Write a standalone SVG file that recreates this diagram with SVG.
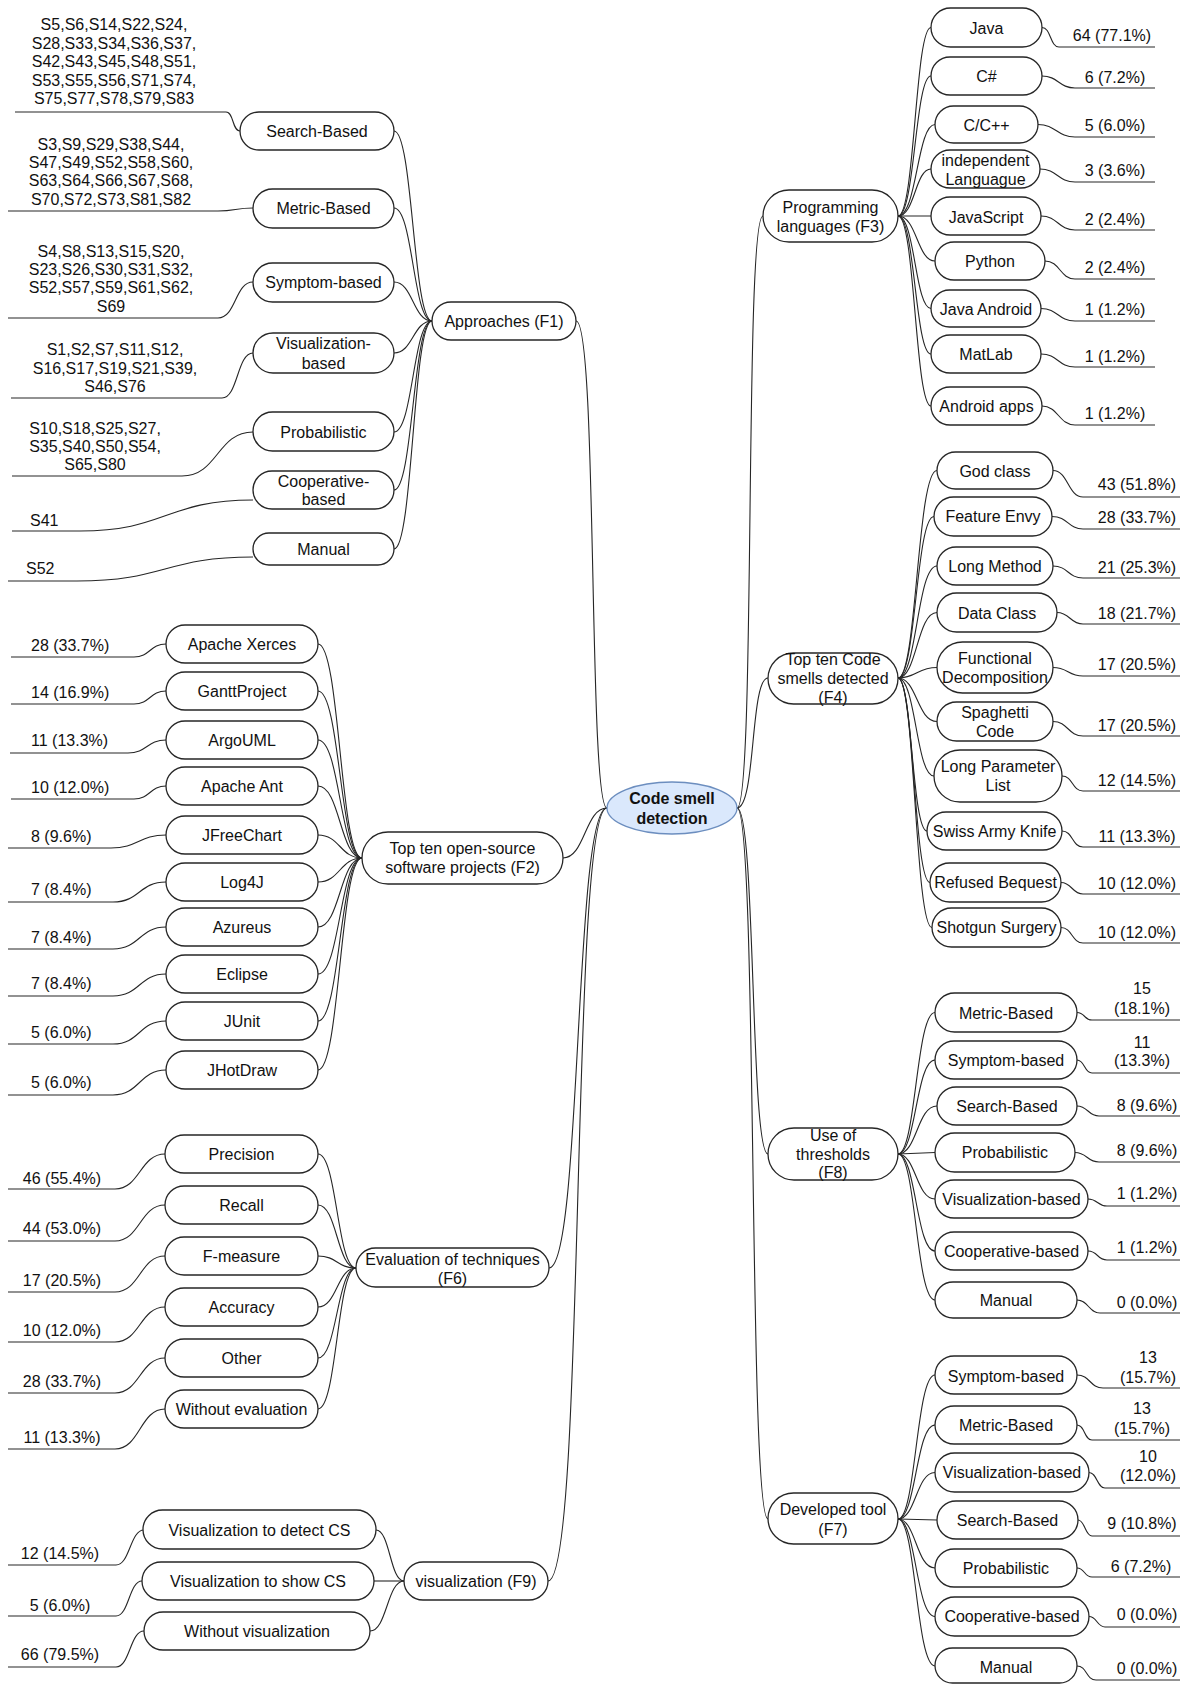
<svg xmlns="http://www.w3.org/2000/svg" width="1180" height="1684" viewBox="0 0 1180 1684">
<style>
.n rect{fill:#fff;stroke:#262626;stroke-width:1.3}
text{font-family:"Liberation Sans",Arial,sans-serif;font-size:16px;fill:#111;dominant-baseline:central}
.c{text-anchor:middle}
.s{text-anchor:start}
#edges path{fill:none;stroke:#262626;stroke-width:1.1}
</style>
<rect width="1180" height="1684" fill="#fff"/>
<g id="edges">
<!-- central -->
<path d="M607,808 C588,808 598,321 576,321"/>
<path d="M607,808 C585,808 585,858 563,858"/>
<path d="M607,808 C574,808 582,1268 549,1268"/>
<path d="M607,808 C570,808 586,1581 548,1581"/>
<path d="M737,808 C756,808 744,216 763,216"/>
<path d="M737,808 C756,808 750,678 768,678"/>
<path d="M737,808 C756,808 750,1154 768,1154"/>
<path d="M737,808 C758,808 748,1519 768,1519"/>
<!-- F1 children -->
<path d="M432,321 C413,321 413,131 394,131"/>
<path d="M432,321 C413,321 413,208 394,208"/>
<path d="M432,321 C413,321 413,282 394,282"/>
<path d="M432,321 C413,321 413,353 394,353"/>
<path d="M432,321 C413,321 413,432 394,432"/>
<path d="M432,321 C413,321 413,490 394,490"/>
<path d="M432,321 C413,321 413,549 394,549"/>
<!-- F1 leaves -->
<path d="M15,112 L226,112 C234,112 232,131 240,131"/>
<path d="M8,211 L218,211 C236,211 235,208 253,208"/>
<path d="M8,318 L218,318 C236,318 235,282 253,282"/>
<path d="M11,398 L222,398 C238,398 237,353 253,353"/>
<path d="M12,476 L182,476 C218,476 217,432 253,432"/>
<path d="M12,531 L80,531 C166,531 166,500 253,500"/>
<path d="M8,581 L77,581 C165,581 165,557 253,557"/>
<!-- F2 children -->
<path d="M362,858 C340,858 340,644 318,644"/>
<path d="M362,858 C340,858 340,691 318,691"/>
<path d="M362,858 C340,858 340,740 318,740"/>
<path d="M362,858 C340,858 340,786 318,786"/>
<path d="M362,858 C340,858 340,835 318,835"/>
<path d="M362,858 C340,858 340,882 318,882"/>
<path d="M362,858 C340,858 340,927 318,927"/>
<path d="M362,858 C340,858 340,974 318,974"/>
<path d="M362,858 C340,858 340,1021 318,1021"/>
<path d="M362,858 C340,858 340,1070 318,1070"/>
<!-- F2 leaves -->
<path d="M11,657 L134,657 C150,657 150,644 166,644"/>
<path d="M11,704 L134,704 C150,704 150,691 166,691"/>
<path d="M10,753 L128,753 C147,753 147,740 166,740"/>
<path d="M11,799 L134,799 C150,799 150,786 166,786"/>
<path d="M8,848 L111,848 C138,848 139,835 166,835"/>
<path d="M8,902 L113,902 C140,902 139,882 166,882"/>
<path d="M8,949 L113,949 C140,949 139,927 166,927"/>
<path d="M8,996 L113,996 C140,996 139,974 166,974"/>
<path d="M8,1044 L113,1044 C140,1044 139,1021 166,1021"/>
<path d="M8,1095 L113,1095 C140,1095 139,1070 166,1070"/>
<!-- F6 children -->
<path d="M356,1268 C337,1268 337,1154 318,1154"/>
<path d="M356,1268 C337,1268 337,1205 318,1205"/>
<path d="M356,1268 C337,1268 337,1256 318,1256"/>
<path d="M356,1268 C337,1268 337,1307 318,1307"/>
<path d="M356,1268 C337,1268 337,1358 318,1358"/>
<path d="M356,1268 C337,1268 337,1409 318,1409"/>
<!-- F6 leaves -->
<path d="M8,1189 L115,1189 C140,1189 140,1154 165,1154"/>
<path d="M8,1241 L115,1241 C140,1241 140,1205 165,1205"/>
<path d="M8,1292 L115,1292 C140,1292 140,1256 165,1256"/>
<path d="M8,1342 L115,1342 C140,1342 140,1307 165,1307"/>
<path d="M8,1393 L115,1393 C140,1393 140,1358 165,1358"/>
<path d="M8,1449 L115,1449 C140,1449 140,1409 165,1409"/>
<!-- F9 children -->
<path d="M404,1581 C390,1581 390,1530 376,1530"/>
<path d="M404,1581 L374,1581"/>
<path d="M404,1581 C387,1581 387,1631 370,1631"/>
<!-- F9 leaves -->
<path d="M8,1565 L116,1565 C130,1565 130,1530 144,1530"/>
<path d="M8,1616 L116,1616 C129,1616 129,1581 142,1581"/>
<path d="M8,1667 L116,1667 C130,1667 130,1631 144,1631"/>
<!-- F3 children -->
<path d="M898,216 C915,216 915,27.5 931,27.5"/>
<path d="M898,216 C915,216 915,76 931,76"/>
<path d="M898,216 C917,216 917,124.5 935,124.5"/>
<path d="M898,216 C915,216 915,169 931,169"/>
<path d="M898,216 L931,216"/>
<path d="M898,216 C917,216 917,261 935,261"/>
<path d="M898,216 C915,216 915,308.5 931,308.5"/>
<path d="M898,216 C915,216 915,354 931,354"/>
<path d="M898,216 C915,216 915,406 931,406"/>
<!-- F3 leaves -->
<path d="M1042,27.5 C1051,27.5 1050,47 1059,47 L1155,47"/>
<path d="M1042,76 C1058,76 1059,88 1075,88 L1155,88"/>
<path d="M1038,124.5 C1056,124.5 1057,137 1075,137 L1155,137"/>
<path d="M1040,169 C1057,169 1058,182 1075,182 L1155,182"/>
<path d="M1041,216 C1058,216 1058,230 1075,230 L1155,230"/>
<path d="M1045,261 C1060,261 1060,279 1075,279 L1155,279"/>
<path d="M1041,308.5 C1058,308.5 1058,321 1075,321 L1155,321"/>
<path d="M1041,354 C1058,354 1058,367 1075,367 L1155,367"/>
<path d="M1042,406 C1058,406 1059,425 1075,425 L1155,425"/>
<!-- F4 children -->
<path d="M898,678 C917,678 917,470.5 937,470.5"/>
<path d="M898,678 C916,678 916,516.5 934,516.5"/>
<path d="M898,678 C917,678 917,566 937,566"/>
<path d="M898,678 C917,678 917,612.5 937,612.5"/>
<path d="M898,678 C917,678 917,667.5 937,667.5"/>
<path d="M898,678 C917,678 917,721.5 937,721.5"/>
<path d="M898,678 C916,678 916,776 934,776"/>
<path d="M898,678 C912,678 912,831 927,831"/>
<path d="M898,678 C914,678 914,882.5 930,882.5"/>
<path d="M898,678 C915,678 915,927.5 932,927.5"/>
<!-- F4 leaves -->
<path d="M1053,470.5 C1068,470.5 1068,497 1083,497 L1180,497"/>
<path d="M1052,516.5 C1068,516.5 1068,529 1083,529 L1180,529"/>
<path d="M1053,566 C1068,566 1068,578 1083,578 L1180,578"/>
<path d="M1057,612.5 C1070,612.5 1070,624 1083,624 L1180,624"/>
<path d="M1053,667.5 C1068,667.5 1068,676 1083,676 L1180,676"/>
<path d="M1053,721.5 C1068,721.5 1068,736 1083,736 L1180,736"/>
<path d="M1062,776 C1073,776 1072,791 1083,791 L1180,791"/>
<path d="M1062,831 C1073,831 1072,847 1083,847 L1180,847"/>
<path d="M1061,882.5 C1072,882.5 1072,894 1083,894 L1180,894"/>
<path d="M1061,927.5 C1072,927.5 1072,943 1083,943 L1180,943"/>
<!-- F8 children -->
<path d="M898,1154 C916,1154 916,1012.5 935,1012.5"/>
<path d="M898,1154 C916,1154 916,1060 935,1060"/>
<path d="M898,1154 C917,1154 917,1106 937,1106"/>
<path d="M898,1154 L935,1152.5"/>
<path d="M898,1154 C916,1154 916,1199 935,1199"/>
<path d="M898,1154 C916,1154 916,1251 935,1251"/>
<path d="M898,1154 C916,1154 916,1300 935,1300"/>
<!-- F8 leaves -->
<path d="M1077,1012.5 C1085,1012.5 1084,1020 1092,1020 L1180,1020"/>
<path d="M1077,1060 C1085,1060 1084,1073 1092,1073 L1180,1073"/>
<path d="M1077,1106 C1088,1106 1088,1116 1099,1116 L1180,1116"/>
<path d="M1075,1152.5 C1087,1152.5 1087,1162 1099,1162 L1180,1162"/>
<path d="M1088,1199 C1098,1199 1097,1206 1107,1206 L1180,1206"/>
<path d="M1088,1251 C1098,1251 1097,1260 1107,1260 L1180,1260"/>
<path d="M1077,1300 C1088,1300 1089,1313 1100,1313 L1180,1313"/>
<!-- F7 children -->
<path d="M898,1519 C916,1519 916,1375 935,1375"/>
<path d="M898,1519 C916,1519 916,1425 935,1425"/>
<path d="M898,1519 C916,1519 916,1472.5 935,1472.5"/>
<path d="M898,1519 L937,1520"/>
<path d="M898,1519 C916,1519 916,1568 935,1568"/>
<path d="M898,1519 C916,1519 916,1616.5 935,1616.5"/>
<path d="M898,1519 C916,1519 916,1666 935,1666"/>
<!-- F7 leaves -->
<path d="M1077,1375 C1090,1375 1090,1388 1103,1388 L1180,1388"/>
<path d="M1077,1425 C1085,1425 1084,1440 1092,1440 L1180,1440"/>
<path d="M1089,1472.5 C1097,1472.5 1097,1488 1105,1488 L1180,1488"/>
<path d="M1078,1520 C1085,1520 1085,1536 1092,1536 L1180,1536"/>
<path d="M1077,1568 C1085,1568 1084,1577 1092,1577 L1180,1577"/>
<path d="M1089,1616.5 C1097,1616.5 1097,1627 1105,1627 L1180,1627"/>
<path d="M1077,1666 C1087,1666 1086,1680 1096,1680 L1180,1680"/>
</g>

<g id="root">
<ellipse cx="672" cy="808" rx="65" ry="26" fill="#dae8fc" stroke="#6c8ebf" stroke-width="1.3"/>
<text class="c" x="672" y="798" font-weight="bold" font-size="17">Code smell</text>
<text class="c" x="672" y="818" font-weight="bold" font-size="17">detection</text>
</g>

<!-- F1 -->
<g id="f1" class="n"><rect x="432" y="302" width="144" height="38" rx="19"/><text class="c" x="504" y="321">Approaches (F1)</text></g>
<g id="f1-search" class="n"><rect x="240" y="112" width="154" height="38" rx="19"/><text class="c" x="317" y="131">Search-Based</text></g>
<g id="f1-metric" class="n"><rect x="253" y="189" width="141" height="39" rx="19.5"/><text class="c" x="323.5" y="208">Metric-Based</text></g>
<g id="f1-symptom" class="n"><rect x="253" y="263" width="141" height="39" rx="19.5"/><text class="c" x="323.5" y="282">Symptom-based</text></g>
<g id="f1-vis" class="n"><rect x="253" y="333" width="141" height="40" rx="20"/><text class="c" x="323.5" y="343">Visualization-</text><text class="c" x="323.5" y="363">based</text></g>
<g id="f1-prob" class="n"><rect x="253" y="412" width="141" height="39" rx="19.5"/><text class="c" x="323.5" y="432">Probabilistic</text></g>
<g id="f1-coop" class="n"><rect x="253" y="471" width="141" height="38" rx="19"/><text class="c" x="323.5" y="481">Cooperative-</text><text class="c" x="323.5" y="499">based</text></g>
<g id="f1-manual" class="n"><rect x="253" y="533" width="141" height="32" rx="16"/><text class="c" x="323.5" y="549">Manual</text></g>

<g id="f1-leaves">
<text class="c" x="114" y="24">S5,S6,S14,S22,S24,</text>
<text class="c" x="114" y="43">S28,S33,S34,S36,S37,</text>
<text class="c" x="114" y="61">S42,S43,S45,S48,S51,</text>
<text class="c" x="114" y="80">S53,S55,S56,S71,S74,</text>
<text class="c" x="114" y="98">S75,S77,S78,S79,S83</text>
<text class="c" x="111" y="144">S3,S9,S29,S38,S44,</text>
<text class="c" x="111" y="162">S47,S49,S52,S58,S60,</text>
<text class="c" x="111" y="180">S63,S64,S66,S67,S68,</text>
<text class="c" x="111" y="199">S70,S72,S73,S81,S82</text>
<text class="c" x="111" y="251">S4,S8,S13,S15,S20,</text>
<text class="c" x="111" y="269">S23,S26,S30,S31,S32,</text>
<text class="c" x="111" y="287">S52,S57,S59,S61,S62,</text>
<text class="c" x="111" y="306">S69</text>
<text class="c" x="115" y="349">S1,S2,S7,S11,S12,</text>
<text class="c" x="115" y="368">S16,S17,S19,S21,S39,</text>
<text class="c" x="115" y="386">S46,S76</text>
<text class="c" x="95" y="428">S10,S18,S25,S27,</text>
<text class="c" x="95" y="446">S35,S40,S50,S54,</text>
<text class="c" x="95" y="464">S65,S80</text>
<text class="s" x="30" y="520">S41</text>
<text class="s" x="26" y="568">S52</text>
</g>

<!-- F2 -->
<g id="f2" class="n"><rect x="362" y="832" width="201" height="52" rx="26"/><text class="c" x="462.5" y="848">Top ten open-source</text><text class="c" x="462.5" y="867">software projects (F2)</text></g>
<g id="f2-xerces" class="n"><rect x="166" y="625" width="152" height="38" rx="19"/><text class="c" x="242" y="644">Apache Xerces</text></g>
<g id="f2-gantt" class="n"><rect x="166" y="672" width="152" height="38" rx="19"/><text class="c" x="242" y="691">GanttProject</text></g>
<g id="f2-argo" class="n"><rect x="166" y="721" width="152" height="38" rx="19"/><text class="c" x="242" y="740">ArgoUML</text></g>
<g id="f2-ant" class="n"><rect x="166" y="767" width="152" height="38" rx="19"/><text class="c" x="242" y="786">Apache Ant</text></g>
<g id="f2-jfree" class="n"><rect x="166" y="816" width="152" height="38" rx="19"/><text class="c" x="242" y="835">JFreeChart</text></g>
<g id="f2-log4j" class="n"><rect x="166" y="863" width="152" height="38" rx="19"/><text class="c" x="242" y="882">Log4J</text></g>
<g id="f2-azureus" class="n"><rect x="166" y="908" width="152" height="38" rx="19"/><text class="c" x="242" y="927">Azureus</text></g>
<g id="f2-eclipse" class="n"><rect x="166" y="955" width="152" height="38" rx="19"/><text class="c" x="242" y="974">Eclipse</text></g>
<g id="f2-junit" class="n"><rect x="166" y="1002" width="152" height="38" rx="19"/><text class="c" x="242" y="1021">JUnit</text></g>
<g id="f2-jhot" class="n"><rect x="166" y="1051" width="152" height="38" rx="19"/><text class="c" x="242" y="1070">JHotDraw</text></g>
<g id="f2-leaves">
<text class="s" x="31" y="645">28 (33.7%)</text>
<text class="s" x="31" y="692">14 (16.9%)</text>
<text class="s" x="31" y="740">11 (13.3%)</text>
<text class="s" x="31" y="787">10 (12.0%)</text>
<text class="s" x="31" y="836">8 (9.6%)</text>
<text class="s" x="31" y="889">7 (8.4%)</text>
<text class="s" x="31" y="937">7 (8.4%)</text>
<text class="s" x="31" y="983">7 (8.4%)</text>
<text class="s" x="31" y="1032">5 (6.0%)</text>
<text class="s" x="31" y="1082">5 (6.0%)</text>
</g>

<!-- F6 -->
<g id="f6" class="n"><rect x="356" y="1248" width="193" height="39" rx="19.5"/><text class="c" x="452.5" y="1259">Evaluation of techniques</text><text class="c" x="452.5" y="1278">(F6)</text></g>
<g id="f6-precision" class="n"><rect x="165" y="1135" width="153" height="38" rx="19"/><text class="c" x="241.5" y="1154">Precision</text></g>
<g id="f6-recall" class="n"><rect x="165" y="1186" width="153" height="38" rx="19"/><text class="c" x="241.5" y="1205">Recall</text></g>
<g id="f6-fmeasure" class="n"><rect x="165" y="1237" width="153" height="38" rx="19"/><text class="c" x="241.5" y="1256">F-measure</text></g>
<g id="f6-accuracy" class="n"><rect x="165" y="1288" width="153" height="38" rx="19"/><text class="c" x="241.5" y="1307">Accuracy</text></g>
<g id="f6-other" class="n"><rect x="165" y="1339" width="153" height="38" rx="19"/><text class="c" x="241.5" y="1358">Other</text></g>
<g id="f6-without" class="n"><rect x="165" y="1390" width="153" height="38" rx="19"/><text class="c" x="241.5" y="1409">Without evaluation</text></g>
<g id="f6-leaves">
<text class="c" x="62" y="1178">46 (55.4%)</text>
<text class="c" x="62" y="1228">44 (53.0%)</text>
<text class="c" x="62" y="1280">17 (20.5%)</text>
<text class="c" x="62" y="1330">10 (12.0%)</text>
<text class="c" x="62" y="1381">28 (33.7%)</text>
<text class="c" x="62" y="1437">11 (13.3%)</text>
</g>

<!-- F9 -->
<g id="f9" class="n"><rect x="404" y="1562" width="144" height="38" rx="19"/><text class="c" x="476" y="1581">visualization (F9)</text></g>
<g id="f9-detect" class="n"><rect x="143" y="1510" width="233" height="39" rx="19.5"/><text class="c" x="259.5" y="1530">Visualization to detect CS</text></g>
<g id="f9-show" class="n"><rect x="142" y="1562" width="232" height="38" rx="19"/><text class="c" x="258" y="1581">Visualization to show CS</text></g>
<g id="f9-without" class="n"><rect x="144" y="1612" width="226" height="38" rx="19"/><text class="c" x="257" y="1631">Without visualization</text></g>
<g id="f9-leaves">
<text class="c" x="60" y="1553">12 (14.5%)</text>
<text class="c" x="60" y="1605">5 (6.0%)</text>
<text class="c" x="60" y="1654">66 (79.5%)</text>
</g>

<!-- F3 -->
<g id="f3" class="n"><rect x="763" y="190" width="135" height="52" rx="26"/><text class="c" x="830.5" y="207">Programming</text><text class="c" x="830.5" y="226">languages (F3)</text></g>
<g id="f3-java" class="n"><rect x="931" y="8" width="111" height="39" rx="19.5"/><text class="c" x="986.5" y="28">Java</text></g>
<g id="f3-cs" class="n"><rect x="931" y="57" width="111" height="38" rx="19"/><text class="c" x="986.5" y="76">C#</text></g>
<g id="f3-cpp" class="n"><rect x="935" y="106" width="103" height="37" rx="18.5"/><text class="c" x="986.5" y="125">C/C++</text></g>
<g id="f3-indep" class="n"><rect x="931" y="150" width="109" height="38" rx="19"/><text class="c" x="985.5" y="160">independent</text><text class="c" x="985.5" y="179">Languague</text></g>
<g id="f3-js" class="n"><rect x="931" y="197" width="110" height="38" rx="19"/><text class="c" x="986" y="217">JavaScript</text></g>
<g id="f3-python" class="n"><rect x="935" y="242" width="110" height="38" rx="19"/><text class="c" x="990" y="261">Python</text></g>
<g id="f3-jandroid" class="n"><rect x="931" y="290" width="110" height="37" rx="18.5"/><text class="c" x="986" y="309">Java Android</text></g>
<g id="f3-matlab" class="n"><rect x="931" y="335" width="110" height="38" rx="19"/><text class="c" x="986" y="354">MatLab</text></g>
<g id="f3-android" class="n"><rect x="931" y="387" width="111" height="38" rx="19"/><text class="c" x="986.5" y="406">Android apps</text></g>
<g id="f3-leaves">
<text class="c" x="1112" y="35">64 (77.1%)</text>
<text class="c" x="1115" y="77">6 (7.2%)</text>
<text class="c" x="1115" y="125">5 (6.0%)</text>
<text class="c" x="1115" y="170">3 (3.6%)</text>
<text class="c" x="1115" y="219">2 (2.4%)</text>
<text class="c" x="1115" y="267">2 (2.4%)</text>
<text class="c" x="1115" y="309">1 (1.2%)</text>
<text class="c" x="1115" y="356">1 (1.2%)</text>
<text class="c" x="1115" y="413">1 (1.2%)</text>
</g>

<!-- F4 -->
<g id="f4" class="n"><rect x="768" y="653" width="130" height="51" rx="25.5"/><text class="c" x="833" y="659">Top ten Code</text><text class="c" x="833" y="678">smells detected</text><text class="c" x="833" y="697">(F4)</text></g>
<g id="f4-god" class="n"><rect x="937" y="452" width="116" height="37" rx="18.5"/><text class="c" x="995" y="471">God class</text></g>
<g id="f4-envy" class="n"><rect x="934" y="497" width="118" height="39" rx="19.5"/><text class="c" x="993" y="516.5">Feature Envy</text></g>
<g id="f4-longm" class="n"><rect x="937" y="547" width="116" height="38" rx="19"/><text class="c" x="995" y="566">Long Method</text></g>
<g id="f4-data" class="n"><rect x="937" y="593" width="120" height="39" rx="19.5"/><text class="c" x="997" y="613">Data Class</text></g>
<g id="f4-func" class="n"><rect x="937" y="642" width="116" height="51" rx="25.5"/><text class="c" x="995" y="658">Functional</text><text class="c" x="995" y="677">Decomposition</text></g>
<g id="f4-spag" class="n"><rect x="937" y="702" width="116" height="39" rx="19.5"/><text class="c" x="995" y="712">Spaghetti</text><text class="c" x="995" y="731">Code</text></g>
<g id="f4-longp" class="n"><rect x="934" y="750" width="128" height="52" rx="26"/><text class="c" x="998" y="766">Long Parameter</text><text class="c" x="998" y="785">List</text></g>
<g id="f4-swiss" class="n"><rect x="927" y="812" width="135" height="38" rx="19"/><text class="c" x="994.5" y="831">Swiss Army Knife</text></g>
<g id="f4-refused" class="n"><rect x="930" y="863" width="131" height="39" rx="19.5"/><text class="c" x="995.5" y="882.5">Refused Bequest</text></g>
<g id="f4-shotgun" class="n"><rect x="932" y="908" width="129" height="39" rx="19.5"/><text class="c" x="996.5" y="927.5">Shotgun Surgery</text></g>
<g id="f4-leaves">
<text class="c" x="1137" y="484">43 (51.8%)</text>
<text class="c" x="1137" y="517">28 (33.7%)</text>
<text class="c" x="1137" y="567">21 (25.3%)</text>
<text class="c" x="1137" y="613">18 (21.7%)</text>
<text class="c" x="1137" y="664">17 (20.5%)</text>
<text class="c" x="1137" y="725">17 (20.5%)</text>
<text class="c" x="1137" y="780">12 (14.5%)</text>
<text class="c" x="1137" y="836">11 (13.3%)</text>
<text class="c" x="1137" y="883">10 (12.0%)</text>
<text class="c" x="1137" y="932">10 (12.0%)</text>
</g>

<!-- F8 -->
<g id="f8" class="n"><rect x="768" y="1128" width="130" height="52" rx="26"/><text class="c" x="833" y="1135">Use of</text><text class="c" x="833" y="1154">thresholds</text><text class="c" x="833" y="1172">(F8)</text></g>
<g id="f8-metric" class="n"><rect x="935" y="993" width="142" height="39" rx="19.5"/><text class="c" x="1006" y="1013">Metric-Based</text></g>
<g id="f8-symptom" class="n"><rect x="935" y="1041" width="142" height="38" rx="19"/><text class="c" x="1006" y="1060">Symptom-based</text></g>
<g id="f8-search" class="n"><rect x="937" y="1087" width="140" height="38" rx="19"/><text class="c" x="1007" y="1106">Search-Based</text></g>
<g id="f8-prob" class="n"><rect x="935" y="1133" width="140" height="39" rx="19.5"/><text class="c" x="1005" y="1152.5">Probabilistic</text></g>
<g id="f8-vis" class="n"><rect x="935" y="1180" width="153" height="38" rx="19"/><text class="c" x="1011.5" y="1199">Visualization-based</text></g>
<g id="f8-coop" class="n"><rect x="935" y="1232" width="153" height="38" rx="19"/><text class="c" x="1011.5" y="1251">Cooperative-based</text></g>
<g id="f8-manual" class="n"><rect x="935" y="1282" width="142" height="36" rx="18"/><text class="c" x="1006" y="1300">Manual</text></g>
<g id="f8-leaves">
<text class="c" x="1142" y="988">15</text>
<text class="c" x="1142" y="1008">(18.1%)</text>
<text class="c" x="1142" y="1042">11</text>
<text class="c" x="1142" y="1060">(13.3%)</text>
<text class="c" x="1147" y="1105">8 (9.6%)</text>
<text class="c" x="1147" y="1150">8 (9.6%)</text>
<text class="c" x="1147" y="1193">1 (1.2%)</text>
<text class="c" x="1147" y="1247">1 (1.2%)</text>
<text class="c" x="1147" y="1302">0 (0.0%)</text>
</g>

<!-- F7 -->
<g id="f7" class="n"><rect x="768" y="1493" width="130" height="51" rx="25.5"/><text class="c" x="833" y="1509">Developed tool</text><text class="c" x="833" y="1529">(F7)</text></g>
<g id="f7-symptom" class="n"><rect x="935" y="1356" width="142" height="38" rx="19"/><text class="c" x="1006" y="1376">Symptom-based</text></g>
<g id="f7-metric" class="n"><rect x="935" y="1406" width="142" height="38" rx="19"/><text class="c" x="1006" y="1425">Metric-Based</text></g>
<g id="f7-vis" class="n"><rect x="935" y="1453" width="154" height="39" rx="19.5"/><text class="c" x="1012" y="1472.5">Visualization-based</text></g>
<g id="f7-search" class="n"><rect x="937" y="1501" width="141" height="38" rx="19"/><text class="c" x="1007.5" y="1520">Search-Based</text></g>
<g id="f7-prob" class="n"><rect x="935" y="1549" width="142" height="38" rx="19"/><text class="c" x="1006" y="1568">Probabilistic</text></g>
<g id="f7-coop" class="n"><rect x="935" y="1597" width="154" height="39" rx="19.5"/><text class="c" x="1012" y="1616.5">Cooperative-based</text></g>
<g id="f7-manual" class="n"><rect x="935" y="1648" width="142" height="35" rx="17.5"/><text class="c" x="1006" y="1667">Manual</text></g>
<g id="f7-leaves">
<text class="c" x="1148" y="1357">13</text>
<text class="c" x="1148" y="1377">(15.7%)</text>
<text class="c" x="1142" y="1408">13</text>
<text class="c" x="1142" y="1428">(15.7%)</text>
<text class="c" x="1148" y="1456">10</text>
<text class="c" x="1148" y="1475">(12.0%)</text>
<text class="c" x="1142" y="1523">9 (10.8%)</text>
<text class="c" x="1141" y="1566">6 (7.2%)</text>
<text class="c" x="1147" y="1614">0 (0.0%)</text>
<text class="c" x="1147" y="1668">0 (0.0%)</text>
</g>
</svg>
